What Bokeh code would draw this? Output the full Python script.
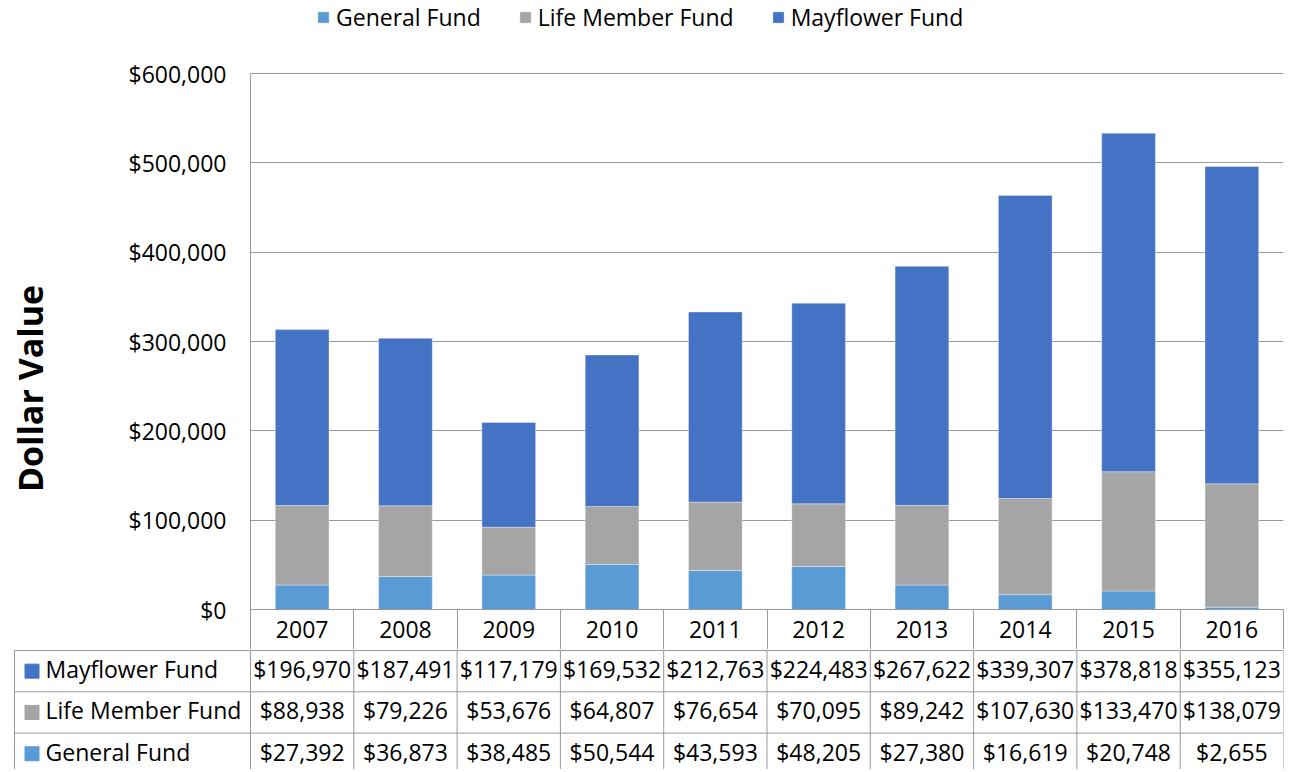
import math
from bokeh.plotting import figure
from bokeh.models import (ColumnDataSource, Range1d, FixedTicker, NumeralTickFormatter,
                          Legend, LegendItem)
from bokeh.layouts import column, row
from bokeh.embed import file_html
from bokeh.resources import INLINE
from bokeh.core.properties import value

# ---------------- data ----------------
years = ["2007", "2008", "2009", "2010", "2011", "2012", "2013", "2014", "2015", "2016"]
general_fund = [27392, 36873, 38485, 50544, 43593, 48205, 27380, 16619, 20748, 2655]
life_member_fund = [88938, 79226, 53676, 64807, 76654, 70095, 89242, 107630, 133470, 138079]
mayflower_fund = [196970, 187491, 117179, 169532, 212763, 224483, 267622, 339307, 378818, 355123]
series_names = ["General Fund", "Life Member Fund", "Mayflower Fund"]
series_colors = ["#5B9BD5", "#A5A5A5", "#4472C4"]
y_ticks = [0, 100000, 200000, 300000, 400000, 500000, 600000]
axis_title = "Dollar Value"

# ---------------- style / layout ----------------
FONT = "Open Sans"
FS = "23px"
GRID = "#999999"
TOTAL_W = 1290
LAB_W = 60                      # narrow figure holding the rotated axis title
FRAME_LEFT = 250                # page x of the plot frame's left edge
FRAME_RIGHT = 1283
Y0_PX, YTOP_PX = 609, 73        # page y of $0 and of the top tick
TOP_H = 649
ncol = len(years)
unit_px = (FRAME_RIGHT - FRAME_LEFT) / ncol
row_px = 41.3

# frame reaches to the top of the page so that the legend can sit above the grid
y_end = y_ticks[-1] * Y0_PX / (Y0_PX - YTOP_PX)

xs = list(range(ncol))
src = ColumnDataSource(dict(x=xs, general=general_fund, life=life_member_fund,
                            mayflower=mayflower_fund))

p = figure(width=TOTAL_W - LAB_W, height=TOP_H,
           x_range=Range1d(-0.5, ncol - 0.5), y_range=Range1d(0, y_end),
           output_backend="svg", toolbar_location=None,
           min_border_left=FRAME_LEFT - LAB_W, min_border_right=TOTAL_W - FRAME_RIGHT,
           min_border_top=0, min_border_bottom=TOP_H - Y0_PX)
p.frame_align = False
p.outline_line_color = None

rs = p.vbar_stack(["general", "life", "mayflower"], x="x", width=0.52,
                  fill_color=series_colors, line_color="#ffffff", line_alpha=0.35,
                  line_width=1, source=src)

# y axis
p.yaxis.ticker = FixedTicker(ticks=y_ticks)
p.yaxis.bounds = (y_ticks[0], y_ticks[-1])
p.yaxis.formatter = NumeralTickFormatter(format="$0,0")
p.yaxis.major_tick_line_color = None
p.yaxis.minor_tick_line_color = None
p.yaxis.axis_line_color = GRID
p.yaxis.major_label_text_font = FONT
p.yaxis.major_label_text_font_size = FS
p.yaxis.major_label_text_color = "#000000"
p.yaxis.major_label_standoff = 18

# x axis = header row of the data table (minor ticks draw the cell borders)
HEAD = TOP_H - Y0_PX
p.xaxis.ticker = FixedTicker(ticks=xs, minor_ticks=[i - 0.5 for i in range(ncol + 1)])
p.xaxis.major_label_overrides = {i: y for i, y in enumerate(years)}
p.xaxis.major_tick_line_color = None
p.xaxis.major_tick_out = 0
p.xaxis.major_tick_in = 0
p.xaxis.minor_tick_in = 0
p.xaxis.minor_tick_out = HEAD
p.xaxis.minor_tick_line_color = GRID
p.xaxis.axis_line_color = GRID
p.xaxis.major_label_text_font = FONT
p.xaxis.major_label_text_font_size = FS
p.xaxis.major_label_text_color = "#000000"
p.xaxis.major_label_standoff = -HEAD + 11

p.xgrid.visible = False
p.ygrid.ticker = FixedTicker(ticks=y_ticks)
p.ygrid.grid_line_color = GRID
p.ygrid.grid_line_width = 1

# legend (inside the tall frame, above the top gridline)
items = [LegendItem(label=n, renderers=[r]) for n, r in zip(series_names, rs)]
leg = Legend(items=items, orientation="horizontal", location=(66, 576),
             padding=0, margin=0, spacing=37, glyph_width=14, glyph_height=14,
             label_standoff=6, label_text_font=FONT, label_text_font_size=FS,
             label_text_color="#000000", border_line_color=None,
             background_fill_alpha=0)
p.add_layout(leg)

# rotated axis title in its own narrow figure
lab = figure(width=LAB_W, height=TOP_H, x_range=Range1d(0, LAB_W), y_range=Range1d(TOP_H, 0),
             output_backend="svg", toolbar_location=None,
             x_axis_location=None, y_axis_location=None,
             min_border_left=0, min_border_right=0, min_border_top=0, min_border_bottom=0)
lab.frame_align = False
lab.outline_line_color = None
lab.grid.visible = False
lab.text(x=[29], y=[388], text=[axis_title], angle=math.pi / 2,
         text_align="center", text_baseline="middle",
         text_font=value(FONT), text_font_size="34px", text_font_style="bold",
         text_color="#000000")

# ---------------- data table ----------------
T_LEFT = 13
T_H = 120
label_w_px = FRAME_LEFT - (T_LEFT + 1)
x_start = -0.5 - (FRAME_LEFT - T_LEFT) / unit_px
x_left = -0.5 - label_w_px / unit_px
t = figure(width=TOTAL_W, height=T_H,
           x_range=Range1d(x_start, ncol - 0.5),
           y_range=Range1d((T_H - 1) / row_px, -1 / row_px),
           output_backend="svg", toolbar_location=None,
           x_axis_location=None, y_axis_location=None,
           min_border_left=T_LEFT, min_border_right=TOTAL_W - FRAME_RIGHT,
           min_border_top=0, min_border_bottom=0)
t.frame_align = False
t.outline_line_color = None
t.grid.visible = False

table_rows = [(series_names[2], mayflower_fund, series_colors[2]),
              (series_names[1], life_member_fund, series_colors[1]),
              (series_names[0], general_fund, series_colors[0])]

cx, cy, ctext = [], [], []
mx, tx, ly, ltext, lcol = [], [], [], [], []
for r, (name, vals, col) in enumerate(table_rows):
    mx.append(x_left + 17.5 / unit_px)
    tx.append(x_left + 31 / unit_px)
    ly.append(r + 0.5)
    ltext.append(name)
    lcol.append(col)
    for i, v in enumerate(vals):
        cx.append(i)
        cy.append(r + 0.5)
        ctext.append("${:,}".format(v))

t.text(x=cx, y=cy, text=ctext, text_align="center", text_baseline="middle",
       y_offset=-2, text_font=value(FONT), text_font_size=FS, text_color="#000000")
lsrc = ColumnDataSource(dict(mx=mx, tx=tx, y=ly, text=ltext, color=lcol))
t.scatter(x="mx", y="y", source=lsrc, marker="square", size=14, color="color")
t.text(x="tx", y="y", text="text", source=lsrc, y_offset=-2,
       text_align="left", text_baseline="middle",
       text_font=value(FONT), text_font_size=FS, text_color="#000000")

nrows = len(table_rows)
t.segment(x0=[x_left] * (nrows + 1), y0=list(range(nrows + 1)),
          x1=[ncol - 0.5] * (nrows + 1), y1=list(range(nrows + 1)),
          line_color=GRID, line_width=1)
vx = [x_left] + [i - 0.5 for i in range(ncol + 1)]
t.segment(x0=vx, y0=[0] * len(vx), x1=vx, y1=[nrows + 0.1] * len(vx),
          line_color=GRID, line_width=1)

layout = column(row(lab, p, spacing=0), t, spacing=0)
open("out.html", "w").write(file_html(layout, INLINE))
